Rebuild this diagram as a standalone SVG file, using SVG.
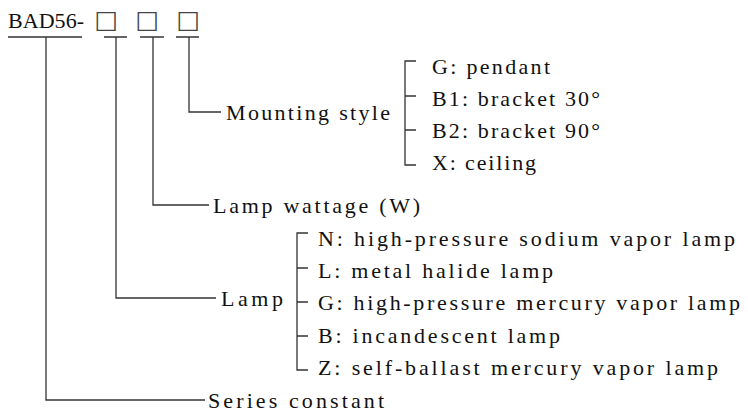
<svg xmlns="http://www.w3.org/2000/svg" width="748" height="415" viewBox="0 0 748 415">
<style>
.t{font-family:"Liberation Serif","DejaVu Serif",serif;font-size:22px;fill:#111;}
.b{font-family:"DejaVu Sans",sans-serif;font-size:25px;fill:#444;}
.c{stroke:#333;stroke-width:1.3;fill:none;}
</style>
<rect width="748" height="415" fill="#fff"/>
<g id="code">
<text class="t" x="8" y="28" textLength="76" lengthAdjust="spacing">BAD56-</text>
<text class="b" x="94.5" y="28">□</text>
<text class="b" x="135.5" y="28">□</text>
<text class="b" x="176.5" y="28">□</text>
</g>
<g id="connectors" class="c">
<path d="M8 37H82M104 37H127M140 37H164M176 37H199"/>
<path d="M46 37V400H205"/>
<path d="M116 37V298H216"/>
<path d="M153 37V205H209"/>
<path d="M189 37V112H221"/>
<path d="M416 61H405V165H416M405 96H416M405 130H416"/>
<path d="M308 233H297V370H308M297 268H308M297 302H308M297 336H308"/>
</g>
<g id="mounting">
<text class="t" x="226" y="120" textLength="164" lengthAdjust="spacing">Mounting style</text>
<text class="t" x="432" y="74" textLength="118" lengthAdjust="spacing">G: pendant</text>
<text class="t" x="432" y="106" textLength="168" lengthAdjust="spacing">B1: bracket 30°</text>
<text class="t" x="432" y="138" textLength="168" lengthAdjust="spacing">B2: bracket 90°</text>
<text class="t" x="432" y="170" textLength="104" lengthAdjust="spacing">X: ceiling</text>
</g>
<g id="wattage">
<text class="t" x="213" y="213" textLength="207" lengthAdjust="spacing">Lamp wattage (W)</text>
</g>
<g id="lamp">
<text class="t" x="221" y="306" textLength="62" lengthAdjust="spacing">Lamp</text>
<text class="t" x="318" y="246" textLength="417" lengthAdjust="spacing">N: high-pressure sodium vapor lamp</text>
<text class="t" x="318" y="278" textLength="235" lengthAdjust="spacing">L: metal halide lamp</text>
<text class="t" x="318" y="310" textLength="422" lengthAdjust="spacing">G: high-pressure mercury vapor lamp</text>
<text class="t" x="318" y="343" textLength="242" lengthAdjust="spacing">B: incandescent lamp</text>
<text class="t" x="318" y="375" textLength="400" lengthAdjust="spacing">Z: self-ballast mercury vapor lamp</text>
</g>
<g id="series">
<text class="t" x="208" y="408" textLength="176" lengthAdjust="spacing">Series constant</text>
</g>
</svg>
